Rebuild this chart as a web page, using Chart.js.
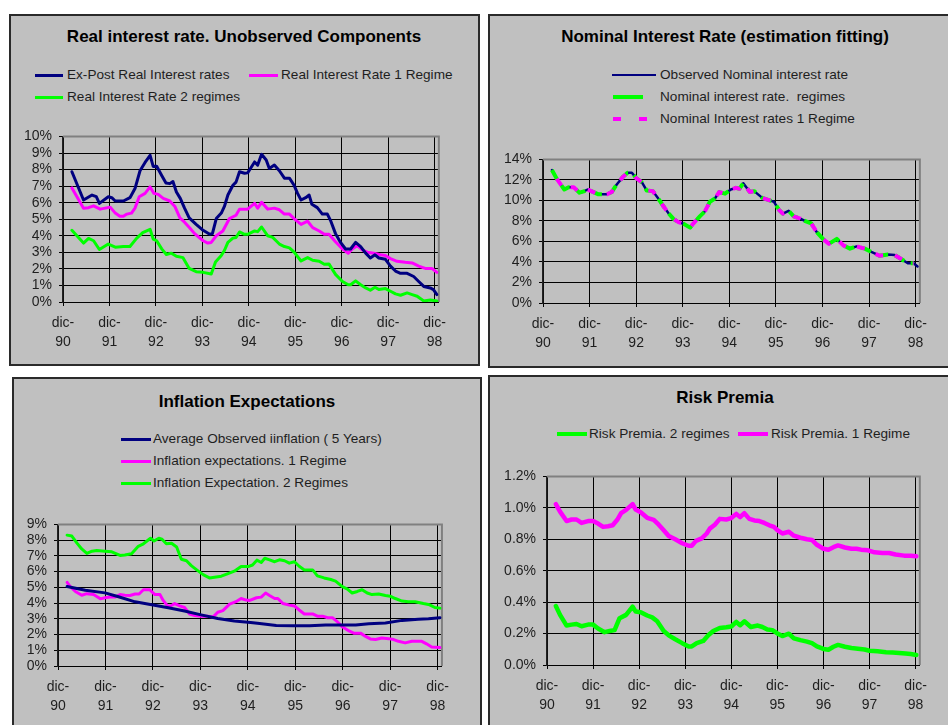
<!DOCTYPE html>
<html>
<head>
<meta charset="utf-8">
<script src="https://cdn.jsdelivr.net/npm/chart.js@4.4.1/dist/chart.umd.min.js"></script>
<style>
  html, body { margin: 0; padding: 0; background: #fff; }
  #page { position: relative; width: 948px; height: 725px; overflow: hidden;
          font-family: 'Liberation Sans', Arial, sans-serif; }
  .panel { position: absolute; background: #c0c0c0; border: 2px solid #2a2a2a; box-sizing: border-box; }
  .title { position: absolute; transform: translate(-50%, -50%); font-weight: bold; font-size: 17px;
           color: #000; white-space: nowrap; }
  .lg-text { position: absolute; font-size: 13.6px; line-height: 16px; color: #1e1e1e; white-space: pre; }
  .lg-line { position: absolute; }
  .plot { position: absolute; }
</style>
</head>
<body>
<div id="page"></div>
<script>
// ---- time axis: months counted from December 1990 ----
const yearTicks  = [0, 12, 24, 36, 48, 60, 72, 84, 96];
const yearLabels = ['90', '91', '92', '93', '94', '95', '96', '97', '98'];

// ---- value axes ----
const realTicks      = [0, 1, 2, 3, 4, 5, 6, 7, 8, 9, 10];
const nominalTicks   = [0, 2, 4, 6, 8, 10, 12, 14];
const inflationTicks = [0, 1, 2, 3, 4, 5, 6, 7, 8, 9];
const premiaTicks    = [0, 0.2, 0.4, 0.6, 0.8, 1.0, 1.2];

// ---- Real interest rate (%), [month, value] ----
const exPostReal = [[2.3,7.87],[5.3,6.16],[7.5,6.46],[8.6,6.36],[9.4,5.96],[11.7,6.36],[12.6,6.3],[13.5,6.1],[15.6,6.1],[17.3,6.3],[18.6,6.85],[19.9,7.93],[21.2,8.43],[22.5,8.86],[23.3,8.19],[24.2,8.2],[25.5,7.64],[26.6,7.19],[27.6,7.15],[28.4,7.28],[29.3,6.65],[30.3,6.26],[31.4,5.67],[32.6,5.08],[34.4,4.69],[36.2,4.33],[37.9,4.09],[38.6,4.13],[39.6,5.04],[40.9,5.37],[41.7,5.77],[42.6,6.46],[43.9,7.05],[44.7,7.24],[45.6,7.87],[46.9,7.78],[47.7,7.8],[48.8,8.2],[49.5,8.46],[50.3,8.27],[51.3,8.92],[52.5,8.58],[53.3,8.07],[54.6,8.27],[55.9,7.93],[57.2,7.48],[58.5,7.48],[59.7,7.05],[60.6,6.56],[61.5,6.16],[62.7,6.3],[63.6,6.46],[64.3,5.9],[65.7,5.7],[67,5.31],[68.3,5.31],[69.2,4.88],[70.4,4.13],[71.7,3.6],[73,3.2],[74.3,3.2],[75.6,3.6],[76.9,3.35],[78.2,2.95],[79.4,2.66],[80.6,2.85],[81.6,2.66],[83.3,2.58],[84.6,2.17],[85.9,1.87],[87.2,1.73],[88.9,1.73],[90.6,1.54],[91.9,1.24],[93.2,0.94],[94.9,0.85],[95.7,0.75],[96.6,0.45]];
const realOneRegime = [[2.3,6.89],[3.6,6.36],[5.3,5.67],[6.6,5.7],[7.9,5.81],[9.6,5.61],[12.2,5.73],[13.5,5.37],[14.7,5.18],[15.6,5.18],[16.5,5.31],[17.7,5.37],[18.6,5.67],[19.7,6.36],[21.2,6.56],[22.5,6.95],[23.5,6.56],[24.6,6.5],[25.9,6.26],[27.6,6.1],[28.9,5.77],[30.2,5.08],[31.4,4.82],[32.7,4.49],[34,4.13],[36.2,3.7],[37.4,3.56],[38.3,3.6],[39.6,4.0],[41.3,4.29],[43,5.04],[44.7,5.24],[45.6,5.61],[47.7,5.61],[49.5,5.96],[50.3,5.67],[51.3,6.02],[52.9,5.61],[54.6,5.67],[55.9,5.57],[57.2,5.31],[58.5,5.31],[59.7,5.04],[61.5,4.69],[63.2,4.88],[64.5,4.49],[66.2,4.29],[67.5,4.09],[68.7,4.09],[70.4,3.64],[72.2,3.2],[73.7,2.95],[74.7,3.2],[76,3.4],[77.3,3.15],[78.6,3.01],[80.3,2.95],[82,2.85],[83.3,2.81],[84.6,2.62],[86.3,2.46],[88.4,2.4],[90.2,2.36],[91.9,2.17],[93.6,2.03],[95.3,2.03],[96.6,1.79]];
const realTwoRegimes = [[2.3,4.33],[4,3.9],[5.3,3.56],[6.6,3.84],[7.9,3.7],[9.4,3.17],[11.7,3.5],[13.5,3.31],[15.6,3.35],[17.3,3.35],[19,3.84],[20.6,4.19],[22.5,4.39],[23.3,3.8],[24.2,3.7],[25.5,3.21],[26.7,2.87],[28,2.95],[29.3,2.76],[31,2.68],[32.6,2.03],[34.4,1.83],[36.2,1.79],[38.3,1.69],[39.4,2.42],[40.9,2.81],[41.7,3.11],[42.6,3.6],[43.9,3.86],[44.7,3.9],[45.6,4.23],[46.9,4.09],[47.7,4.09],[49.5,4.29],[50.3,4.25],[51.3,4.53],[52.9,4.0],[54.2,3.9],[55.9,3.5],[57.2,3.35],[58.5,3.27],[59.7,3.01],[61.5,2.48],[63.2,2.68],[64.5,2.52],[66.2,2.46],[67.5,2.28],[68.7,2.3],[70.4,1.67],[72.2,1.24],[73.7,1.04],[74.3,1.04],[75.6,1.28],[76.9,1.04],[78.2,0.85],[79.4,0.71],[80.6,0.89],[81.6,0.75],[83.3,0.81],[84.6,0.65],[85.9,0.49],[87.2,0.41],[88.9,0.55],[90.2,0.45],[91.5,0.35],[93.2,0.06],[94.9,0.12],[96.6,0.06]];

// ---- Nominal interest rate (%), observed and fitted ----
const nominalObserved = [[2.3,12.97],[3.6,12.08],[5.5,11.07],[6.6,11.29],[7.9,11.29],[9.4,10.76],[10.5,10.88],[11.5,11.07],[13,10.82],[14.3,10.6],[16.5,10.6],[17.7,10.82],[19,11.55],[20.6,12.3],[21.8,12.71],[22.9,12.71],[24,12.18],[25.5,11.77],[26.7,10.98],[28.3,10.91],[29.7,10.19],[30.8,9.56],[32.3,8.77],[33.6,8.2],[34.9,7.89],[36.2,7.73],[37.9,7.35],[38.9,7.82],[40.4,8.45],[41.7,8.93],[43,9.87],[44.3,10.19],[45.4,10.82],[46.9,10.66],[48.4,11.07],[49.7,11.23],[50.6,11.14],[51.6,11.67],[53.3,10.82],[54.4,10.91],[56.5,10.25],[58.2,10.03],[59.5,9.87],[60.8,9.09],[61.8,8.71],[63.3,8.99],[64.6,8.45],[66.3,8.23],[67.6,7.98],[69.1,7.76],[70.6,6.88],[72.3,6.18],[73.7,5.77],[75.7,6.25],[77.4,5.62],[79.1,5.3],[80.8,5.52],[82.9,5.3],[84.6,4.98],[86.7,4.61],[88.9,4.73],[90.6,4.67],[92.3,4.29],[94,3.88],[95.5,3.88],[96.5,3.56]];
const nominalTwoRegimes = [[2.3,12.97],[3.6,12.08],[5.5,11.07],[6.6,11.29],[7.9,11.29],[9.4,10.76],[10.5,10.88],[11.5,11.07],[13,10.82],[14.3,10.6],[16.5,10.6],[17.7,10.82],[19,11.55],[20.6,12.3],[21.8,12.71],[22.9,12.71],[24,12.18],[25.5,11.77],[26.7,10.98],[28.3,10.91],[29.7,10.19],[30.8,9.56],[32.3,8.77],[33.6,8.2],[34.9,7.89],[36.2,7.73],[37.9,7.35],[38.9,7.82],[40.4,8.45],[41.7,8.93],[43,9.87],[44.3,10.19],[45.4,10.82],[46.9,10.66],[48.4,11.07],[49.7,11.23],[50.6,11.14],[51.6,11.67],[53.3,10.82],[54.4,10.91],[56.5,10.25],[58.2,10.03],[59.5,9.87],[60.8,9.09],[61.8,8.71],[63.3,8.99],[64.6,8.45],[66.3,8.23],[67.6,7.98],[69.1,7.76],[70.6,6.88],[72.3,6.18],[73.7,5.77],[75.7,6.25],[77.4,5.62],[79.1,5.3],[80.8,5.52],[82.9,5.3],[84.6,4.98],[86.7,4.61],[88.9,4.73],[90.6,4.67],[92.3,4.29],[94,3.88],[95.5,3.88]];
const nominalOneRegime = [[2.3,12.97],[3.6,12.08],[5.5,11.07],[6.6,11.29],[7.9,11.29],[9.4,10.76],[10.5,10.88],[11.5,11.07],[13,10.82],[14.3,10.6],[16.5,10.6],[17.7,10.82],[19,11.55],[20.6,12.3],[21.8,12.71],[22.9,12.71],[24,12.18],[25.5,11.77],[26.7,10.98],[28.3,10.91],[29.7,10.19],[30.8,9.56],[32.3,8.77],[33.6,8.2],[34.9,7.89],[36.2,7.73],[37.9,7.35],[38.9,7.82],[40.4,8.45],[41.7,8.93],[43,9.87],[44.3,10.19],[45.4,10.82],[46.9,10.66],[48.4,11.07],[49.7,11.23],[50.6,11.14],[51.6,11.67],[53.3,10.82],[54.4,10.91],[56.5,10.25],[58.2,10.03],[59.5,9.87],[60.8,9.09],[61.8,8.71],[63.3,8.99],[64.6,8.45],[66.3,8.23],[67.6,7.98],[69.1,7.76],[70.6,6.88],[72.3,6.18],[73.7,5.77],[75.7,6.25],[77.4,5.62],[79.1,5.3],[80.8,5.52],[82.9,5.3],[84.6,4.98],[86.7,4.61],[88.9,4.73],[90.6,4.67],[92.3,4.29],[94,3.88],[95.5,3.88]];

// ---- Inflation (%) ----
const avgObservedInflation = [[2.3,5.05],[6.9,4.82],[11.9,4.65],[15.3,4.4],[19.5,4.08],[23.7,3.9],[27.9,3.7],[32,3.5],[36.2,3.25],[40.4,3.02],[44.6,2.86],[48.7,2.77],[51,2.7],[55.2,2.58],[59.4,2.56],[63.6,2.56],[67.7,2.6],[71.9,2.6],[75.3,2.6],[78.6,2.68],[82.8,2.74],[87,2.9],[91.1,2.97],[93.7,3.0],[96.6,3.07]];
const inflationOneRegime = [[2.3,5.32],[3.1,5.05],[4.4,4.74],[6,4.5],[7.3,4.6],[9,4.54],[10.7,4.27],[11.9,4.34],[13.2,4.38],[14.4,4.38],[15.7,4.54],[16.9,4.5],[18.2,4.48],[19.5,4.58],[20.5,4.58],[21.6,4.85],[23.2,4.85],[24.5,4.54],[25.8,4.54],[26.6,4.17],[27.7,3.82],[28.5,3.82],[29.5,3.97],[30.8,3.82],[32,3.72],[33.3,3.31],[34.6,3.21],[36.2,3.17],[37.9,3.17],[39.2,3.11],[40.4,3.42],[41.7,3.52],[43.4,3.93],[45,4.09],[46.3,4.29],[47.6,4.19],[48.5,4.17],[50.2,4.34],[51.4,4.38],[52.5,4.64],[53.5,4.48],[54.8,4.29],[55.6,4.29],[56.9,3.97],[58.5,3.87],[59.8,3.82],[61,3.56],[62.3,3.31],[64.4,3.31],[65.6,3.17],[66.9,3.17],[68.2,3.07],[69.4,3.07],[70.7,2.8],[71.9,2.49],[73.6,2.23],[74.8,2.09],[76.5,2.09],[77.8,1.88],[79,1.72],[80.3,1.68],[81.9,1.78],[83.6,1.74],[84.9,1.68],[86.1,1.57],[87.8,1.47],[89.5,1.57],[92,1.57],[93.2,1.41],[94.5,1.21],[96.6,1.17]];
const inflationTwoRegimes = [[2.3,8.32],[3.5,8.26],[4.8,7.81],[6,7.44],[7.3,7.16],[8.6,7.3],[9.8,7.34],[11.9,7.3],[13.6,7.26],[15.7,7.03],[16.9,7.06],[18.6,7.14],[20.3,7.61],[21.6,7.77],[23.4,8.12],[24.3,7.95],[25.5,8.12],[26.3,8.06],[27.4,7.77],[28.7,7.81],[30,7.57],[31.2,6.79],[32.5,6.69],[33.7,6.38],[35,6.13],[36.7,5.81],[38.3,5.6],[40,5.66],[41.3,5.71],[43,5.87],[44.6,6.03],[46.3,6.32],[48.1,6.32],[49.2,6.42],[50.3,6.73],[51.4,6.58],[52.3,6.85],[53.5,6.75],[54.8,6.63],[56,6.75],[57.3,6.69],[58.5,6.54],[59.8,6.63],[61,6.34],[62.3,6.11],[64.4,6.11],[65.6,5.73],[67.3,5.6],[69,5.5],[70.2,5.4],[71.9,5.05],[73.2,4.89],[74.4,4.64],[75.7,4.74],[76.9,4.85],[78.2,4.64],[79.4,4.54],[81.1,4.58],[82.8,4.48],[84,4.44],[85.3,4.29],[87,4.13],[88.6,4.09],[90.3,4.09],[92.4,3.97],[94,3.89],[95.3,3.72],[96.6,3.68]];

// ---- Risk premia (%) ----
const premiaTwoRegimes = [[2.3,0.375],[3.4,0.319],[5.1,0.251],[6.4,0.257],[7.7,0.261],[9,0.247],[10.7,0.257],[12,0.257],[13.3,0.232],[15,0.209],[16.3,0.216],[17.6,0.222],[18.9,0.298],[20.6,0.319],[22.3,0.371],[23.1,0.34],[24.4,0.336],[26.1,0.315],[27.4,0.303],[28.7,0.278],[30.4,0.216],[31.7,0.189],[33.4,0.164],[35.2,0.139],[36.9,0.118],[37.7,0.118],[39,0.139],[40.7,0.153],[42,0.189],[43.3,0.216],[45,0.236],[46.7,0.24],[48,0.245],[49.3,0.274],[50.3,0.253],[51.4,0.278],[53.1,0.242],[54.9,0.251],[56.1,0.242],[57.4,0.226],[58.7,0.222],[60,0.201],[61.3,0.184],[63,0.199],[64.3,0.17],[66,0.158],[67.7,0.149],[69,0.139],[70.3,0.118],[72,0.102],[73.3,0.097],[74.6,0.116],[75.8,0.128],[77.6,0.116],[79.3,0.108],[81,0.104],[82.7,0.099],[84,0.091],[86.1,0.087],[88.3,0.081],[90,0.079],[91.7,0.077],[93.4,0.073],[94.7,0.07],[96.2,0.064]];
const premiaOneRegime = [[2.3,1.024],[3.4,0.976],[5.1,0.916],[6.4,0.926],[7.7,0.926],[9,0.904],[10.7,0.916],[12,0.916],[13.3,0.9],[14.6,0.879],[15.9,0.883],[17.1,0.889],[18.3,0.924],[19.3,0.966],[20.6,0.987],[22.3,1.024],[23.1,0.989],[24.4,0.972],[26.1,0.937],[27.8,0.924],[29.1,0.893],[30.4,0.858],[31.7,0.821],[33.4,0.8],[35.2,0.775],[36.9,0.759],[37.7,0.759],[38.8,0.79],[40.3,0.806],[41.6,0.837],[42.4,0.868],[43.7,0.893],[45,0.93],[46.7,0.926],[48,0.935],[49.3,0.962],[50.3,0.941],[51.4,0.966],[52.7,0.93],[54,0.92],[55.3,0.916],[56.6,0.904],[57.9,0.889],[59.1,0.879],[60,0.858],[61.3,0.837],[63,0.848],[64.3,0.823],[66,0.81],[67.7,0.8],[69,0.796],[70.3,0.765],[72,0.74],[73.3,0.734],[74.6,0.75],[75.8,0.761],[77.6,0.748],[79.3,0.74],[80.6,0.74],[81.8,0.734],[83.6,0.73],[85.3,0.717],[87.4,0.713],[89.1,0.713],[90.8,0.703],[93,0.696],[94.7,0.696],[96.2,0.692]];

// ---- styling and layout ----
const NAVY = '#000080', PINK = '#ff00ff', LIME = '#00ff00';
const FONT = "'Liberation Sans', Arial, sans-serif";
const X_MAX = 97.1;

const panels = [
  {
    title: 'Real interest rate. Unobserved Components', titleAt: [244, 37],
    box: [9, 14, 471, 352], plot: [63, 132, 442, 302],
    yTicks: realTicks, fmt: v => v + '%',
    series: [
      { label: 'Ex-Post Real Interest rates', data: exPostReal, color: NAVY, width: 3, order: 1 },
      { label: 'Real Interest Rate 1 Regime', data: realOneRegime, color: PINK, width: 3, order: 2 },
      { label: 'Real Interest Rate 2 regimes', data: realTwoRegimes, color: LIME, width: 3, order: 3 }
    ],
    legend: [ { x: 35, y: 75, len: 28, tx: 67 }, { x: 249, y: 75, len: 29, tx: 281 }, { x: 35, y: 97, len: 28, tx: 67 } ]
  },
  {
    title: 'Nominal Interest Rate (estimation fitting)', titleAt: [725, 37],
    box: [488, 14, 480, 354], plot: [543, 155, 923, 303],
    yTicks: nominalTicks, fmt: v => v + '%',
    series: [
      { label: 'Observed Nominal interest rate', data: nominalObserved, color: NAVY, width: 2.5, order: 3 },
      { label: 'Nominal interest rate.  regimes', data: nominalTwoRegimes, color: LIME, width: 4, order: 2, dash: [11, 7] },
      { label: 'Nominal Interest rates 1 Regime', data: nominalOneRegime, color: PINK, width: 4, order: 1, dash: [8, 12], dashOffset: 10 }
    ],
    legend: [ { x: 612, y: 75, len: 44, tx: 660 }, { x: 613, y: 97, len: 30, tx: 660 },
              { x: 613, y: 119, len: 35, tx: 660, dash: [8, 18] } ]
  },
  {
    title: 'Inflation Expectations', titleAt: [247, 402],
    box: [12, 377, 470, 400], plot: [58, 520, 445, 666],
    yTicks: inflationTicks, fmt: v => v + '%',
    series: [
      { label: 'Average Observed iinflation ( 5 Years)', data: avgObservedInflation, color: NAVY, width: 3, order: 1 },
      { label: 'Inflation expectations. 1 Regime', data: inflationOneRegime, color: PINK, width: 3, order: 2 },
      { label: 'Inflation Expectation. 2 Regimes', data: inflationTwoRegimes, color: LIME, width: 3, order: 3 }
    ],
    legend: [ { x: 121, y: 439, len: 30, tx: 153 }, { x: 121, y: 461, len: 30, tx: 153 }, { x: 121, y: 483, len: 30, tx: 153 } ]
  },
  {
    title: 'Risk Premia', titleAt: [725, 398],
    box: [488, 375, 480, 400], plot: [547, 472, 923, 665],
    yTicks: premiaTicks, fmt: v => v.toFixed(1) + '%',
    series: [
      { label: 'Risk Premia. 2 regimes', data: premiaTwoRegimes, color: LIME, width: 4.5, order: 2 },
      { label: 'Risk Premia. 1 Regime', data: premiaOneRegime, color: PINK, width: 4.5, order: 1 }
    ],
    legend: [ { x: 557, y: 434, len: 30, tx: 589 }, { x: 738, y: 434, len: 30, tx: 771 } ]
  }
];

// grey frame on the top and right edges of each plot area
const plotFrame = {
  id: 'plotFrame',
  beforeDatasetsDraw(chart) {
    const { ctx, chartArea: a } = chart;
    ctx.save();
    ctx.strokeStyle = '#808080';
    ctx.lineWidth = 2;
    ctx.beginPath();
    ctx.moveTo(a.left, a.top);
    ctx.lineTo(a.right, a.top);
    ctx.lineTo(a.right, a.bottom);
    ctx.stroke();
    ctx.restore();
  }
};

const page = document.getElementById('page');

function addDiv(cls, css) {
  const d = document.createElement('div');
  d.className = cls;
  Object.assign(d.style, css);
  page.appendChild(d);
  return d;
}

function buildPanel(p) {
  const [bx, by, bw, bh] = p.box;
  addDiv('panel', { left: bx + 'px', top: by + 'px', width: bw + 'px', height: bh + 'px' });

  const t = addDiv('title', { left: p.titleAt[0] + 'px', top: p.titleAt[1] + 'px' });
  t.textContent = p.title;

  // legend entries: sample line + label
  p.legend.forEach((it, i) => {
    const s = p.series[i];
    const h = s.width;
    const bg = it.dash
      ? `repeating-linear-gradient(to right, ${s.color} 0 ${it.dash[0]}px, transparent ${it.dash[0]}px ${it.dash[0] + it.dash[1]}px)`
      : s.color;
    addDiv('lg-line', { left: it.x + 'px', top: (it.y - h / 2) + 'px', width: it.len + 'px', height: h + 'px', background: bg });
    const tx = addDiv('lg-text', { left: it.tx + 'px', top: (it.y - 8) + 'px' });
    tx.textContent = s.label;
  });

  // chart canvas: fixed axis sizes so the plot area lands on p.plot
  const [L, T, R, B] = p.plot;
  const AXW = 60, AXH = 56, PADT = 12, PADR = 12;
  const wrap = addDiv('plot', {
    left: (L - AXW) + 'px', top: (T - PADT) + 'px',
    width: (R - L + AXW + PADR) + 'px', height: (B - T + PADT + AXH) + 'px'
  });
  const cv = document.createElement('canvas');
  wrap.appendChild(cv);

  const tickFont = { family: FONT, size: 14, lineHeight: 1.35 };
  new Chart(cv, {
    type: 'line',
    data: {
      datasets: p.series.map(s => ({
        label: s.label, data: s.data,
        borderColor: s.color, backgroundColor: s.color,
        borderWidth: s.width, borderDash: s.dash || [], borderDashOffset: s.dashOffset || 0,
        borderJoinStyle: 'round', borderCapStyle: s.dash ? 'butt' : 'round',
        pointRadius: 0, tension: 0, fill: false, order: s.order
      }))
    },
    options: {
      responsive: true, maintainAspectRatio: false, animation: false, events: [],
      layout: { padding: { left: 0, top: PADT, right: PADR, bottom: 0 }, autoPadding: false },
      plugins: { legend: { display: false }, tooltip: { enabled: false }, title: { display: false } },
      scales: {
        x: {
          type: 'linear', min: 0, max: X_MAX,
          afterBuildTicks: sc => { sc.ticks = yearTicks.map(v => ({ value: v })); },
          afterFit: sc => { sc.height = AXH; },
          ticks: { autoSkip: false, maxRotation: 0, padding: 8, font: tickFont, color: '#1e1e1e',
                   callback: (v, i) => ['dic-', yearLabels[i]] },
          grid: { color: '#000', lineWidth: 1, tickLength: 4 },
          border: { color: '#000', width: 1 }
        },
        y: {
          type: 'linear', min: p.yTicks[0], max: p.yTicks[p.yTicks.length - 1],
          afterBuildTicks: sc => { sc.ticks = p.yTicks.map(v => ({ value: v })); },
          afterFit: sc => { sc.width = AXW; },
          ticks: { autoSkip: false, padding: 7, font: tickFont, color: '#1e1e1e', callback: v => p.fmt(v) },
          grid: { color: '#000', lineWidth: 1, tickLength: 4 },
          border: { color: '#222', width: 1.5 }
        }
      }
    },
    plugins: [plotFrame]
  });
}

panels.forEach(buildPanel);
</script>
</body>
</html>
